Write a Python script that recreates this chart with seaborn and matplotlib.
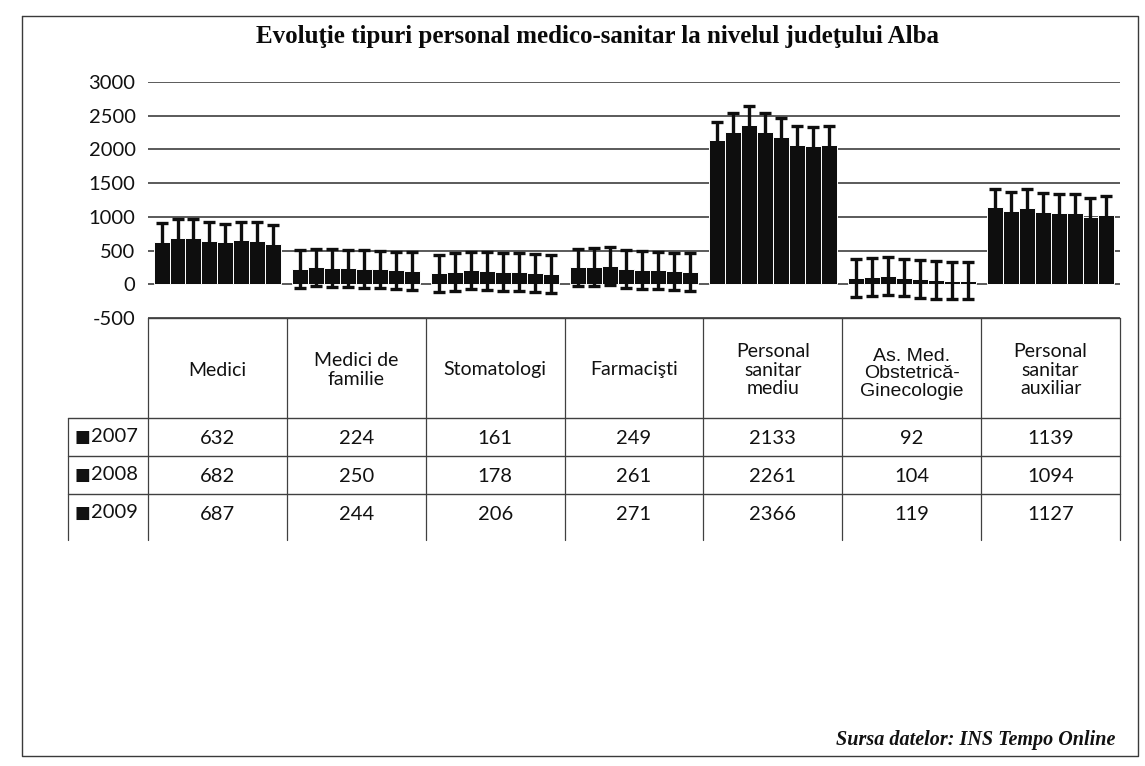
import numpy as np
import pandas as pd
import matplotlib
matplotlib.use("Agg")
import matplotlib.pyplot as plt
import seaborn as sns

# ---------------- data ----------------
years = ["2007", "2008", "2009", "2010", "2011", "2012", "2013", "2014"]
categories = ["Medici", "Medici de\nfamilie", "Stomatologi", "Farmacişti",
              "Personal\nsanitar\nmediu", "As. Med.\nObstetrică-\nGinecologie",
              "Personal\nsanitar\nauxiliar"]
medici = [632, 682, 687, 645, 620, 650, 645, 600]
medici_familie = [224, 250, 244, 235, 230, 220, 205, 195]
stomatologi = [161, 178, 206, 200, 185, 180, 165, 155]
farmacisti = [249, 261, 271, 230, 215, 205, 190, 185]
personal_mediu = [2133, 2261, 2366, 2260, 2185, 2065, 2055, 2065]
asist_obst_gin = [92, 104, 119, 100, 80, 65, 55, 55]
personal_auxiliar = [1139, 1094, 1127, 1070, 1060, 1060, 995, 1025]
error_size = 280
y_ticks = [-500, 0, 500, 1000, 1500, 2000, 2500, 3000]
table_years = ["2007", "2008", "2009"]

values_by_cat = [medici, medici_familie, stomatologi, farmacisti,
                 personal_mediu, asist_obst_gin, personal_auxiliar]

rows = []
for c, vals in zip(categories, values_by_cat):
    for y, v in zip(years, vals):
        rows.append({"cat": c, "year": y, "val": v})
df = pd.DataFrame(rows)

# ---------------- style ----------------
sns.set_theme(style="white")
plt.rcParams["font.family"] = ["Lato", "DejaVu Sans"]

W, H = 1145, 766
fig = plt.figure(figsize=(W / 100, H / 100), dpi=100)
fig.patch.set_facecolor("white")


def fx(px):
    return px / W


def fy(py):
    return 1 - py / H


L, R, T, B = 148, 1120, 82, 318
ax = fig.add_axes([fx(L), fy(B), fx(R) - fx(L), fy(T) - fy(B)])
ax.set_facecolor("none")

bar_color = "#0e0e0e"
sns.barplot(data=df, x="cat", y="val", hue="year", order=categories,
            hue_order=years, palette=[bar_color] * len(years), width=0.92,
            errorbar=None, edgecolor="white", linewidth=0.7, legend=False,
            ax=ax)
for p in ax.patches:
    cx = p.get_x() + p.get_width() / 2
    ax.errorbar(cx, p.get_height(), yerr=error_size, fmt="none",
                ecolor=bar_color, elinewidth=2.4, capsize=4.2, capthick=2.4,
                zorder=3)

ax.set_ylim(y_ticks[0], y_ticks[-1])
ax.set_xlim(-0.5, len(categories) - 0.5)
ax.set_yticks(y_ticks)
ax.set_yticklabels([str(t) for t in y_ticks], fontsize=14.5)
ax.set_xticks([])
ax.set_xlabel("")
ax.set_ylabel("")
for s in ax.spines.values():
    s.set_visible(False)
ax.yaxis.grid(True, color="#2e2e2e", linewidth=1.1)
ax.set_axisbelow(True)
ax.tick_params(axis="y", length=0, pad=9, labelcolor="#111111")

# ---------------- overlay: table, title, frame ----------------
oax = fig.add_axes([0, 0, 1, 1], zorder=-1)
oax.set_xlim(0, W)
oax.set_ylim(H, 0)
oax.axis("off")

# column boundaries from the bar axis scale
bx = [ax.transData.transform((i - 0.5, 0))[0] for i in range(len(categories) + 1)]
cx_cols = [ax.transData.transform((i, 0))[0] for i in range(len(categories))]

head_bottom = 418
row_h = 38
row_tops = [head_bottom + i * row_h for i in range(len(table_years))]
v_end = head_bottom + len(table_years) * row_h + 8
lab_left = 68
line_c = "#404040"

oax.plot([bx[0], bx[-1]], [B, B], color=line_c, lw=1)
for yt in row_tops:
    oax.plot([lab_left, bx[-1]], [yt, yt], color=line_c, lw=1)
for xb in bx:
    oax.plot([xb, xb], [B, v_end], color=line_c, lw=0.9)
oax.plot([lab_left, lab_left], [head_bottom, v_end], color=line_c, lw=0.9)

for i, (c, xc) in enumerate(zip(categories, cx_cols)):
    if c.startswith("As. Med."):
        oax.text(xc, 374, c, ha="center", va="center", fontsize=14,
                 family=["Liberation Sans", "DejaVu Sans"], color="#111111",
                 linespacing=1.05)
    else:
        oax.text(xc, 370, c, ha="center", va="center", fontsize=14,
                 color="#111111", linespacing=1.12)

for r, yr in enumerate(table_years):
    yc = row_tops[r] + row_h / 2
    oax.text(lab_left + 6, yc, "■", ha="left", va="center", fontsize=12,
             family=["DejaVu Sans"], color="#111111")
    oax.text(lab_left + 23, yc, yr, ha="left", va="center", fontsize=14.5,
             color="#111111")
    for i, vals in enumerate(values_by_cat):
        oax.text(cx_cols[i], yc + 1, str(vals[r]), ha="center", va="center",
                 fontsize=14.5, color="#111111")

# title
oax.text(598, 36, "Evoluţie tipuri personal medico-sanitar la nivelul judeţului Alba",
         ha="center", va="center", fontsize=18, fontweight="bold",
         family=["Liberation Serif", "DejaVu Serif"], color="#0a0a0a")

# source
oax.text(1115, 740, "Sursa datelor: INS Tempo Online", ha="right", va="center",
         fontsize=14.5, fontstyle="italic", fontweight="bold",
         family=["Liberation Serif", "DejaVu Serif"], color="#111111")

# outer frame
fl, ft, fr, fb = 22, 16, 1138, 756
oax.plot([fl, fr, fr, fl, fl], [ft, ft, fb, fb, ft], color="#3a3a3a", lw=1)

fig.savefig("out.png", dpi=100, facecolor="white")
